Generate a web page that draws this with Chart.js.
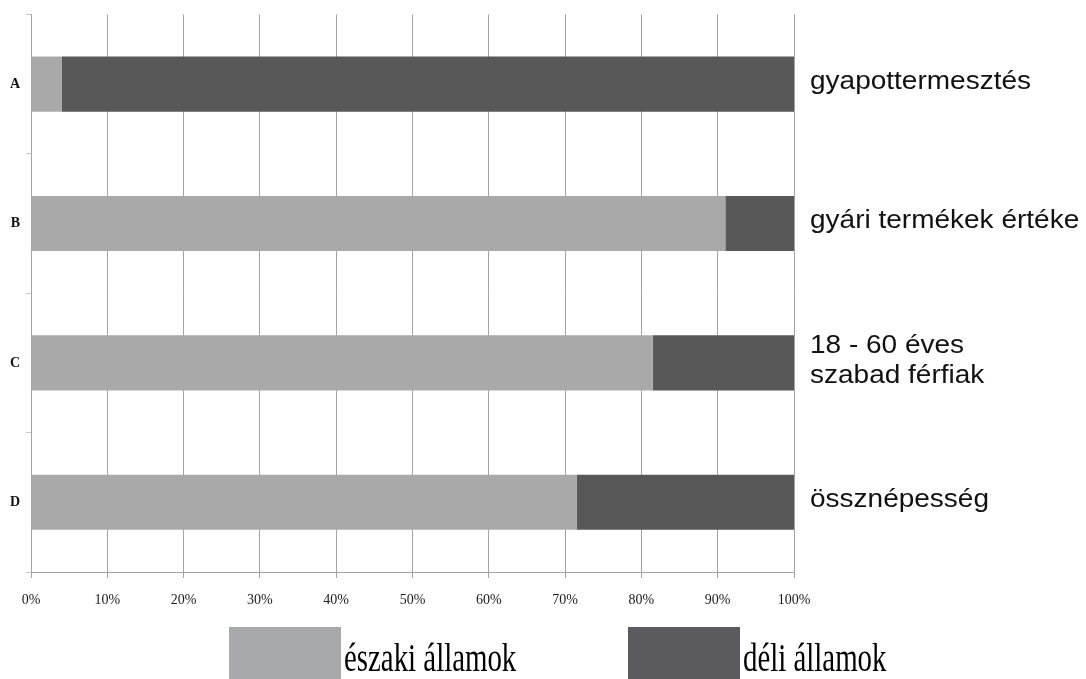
<!DOCTYPE html>
<html>
<head>
<meta charset="utf-8">
<script src="https://cdn.jsdelivr.net/npm/chart.js@4/dist/chart.umd.min.js"></script>
<style>
    html, body { margin: 0; padding: 0; background: #fff; overflow: hidden; }
    #wrap { position: relative; width: 1086px; height: 679px; }
    .lg-box { position: absolute; top: 627px; width: 112px; height: 54px; }
    .lg-text { position: absolute; top: 638px; line-height: 40px; font-family: "Liberation Serif", "Times New Roman", serif; font-size: 39px; color: #000; white-space: nowrap; transform: scaleX(0.74); transform-origin: left top; }
</style>
</head>
<body>
<div id="wrap">
    <canvas id="chart" width="1086" height="679"></canvas>
    <div class="lg-box" style="left:229px; background:#a8a9ad;"></div>
    <div class="lg-text" style="left:344px;">északi államok</div>
    <div class="lg-box" style="left:628px; background:#5b5b5f;"></div>
    <div class="lg-text" style="left:743px;">déli államok</div>
</div>
<script>
(function () {
    'use strict';

    const categories = ['A', 'B', 'C', 'D'];
    const rightLabels = [['gyapottermesztés'], ['gyári termékek értéke'], ['18 - 60 éves', 'szabad férfiak'], ['össznépesség']];
    const northValues = [4, 91, 81.5, 71.5];
    const southValues = [96, 9, 18.5, 28.5];
    const seriesNames = ['északi államok', 'déli államok'];

    const LIGHT = '#a9a9a9';
    const DARK = '#585858';
    const GRID = '#a3a3a3';

    const rightLabelPlugin = {
        id: 'rightLabels',
        afterDraw(chart) {
            const ctx = chart.ctx;
            const y = chart.scales.y;
            const x0 = chart.chartArea.right + 16;
            const sx = 1.12;
            ctx.save();
            ctx.fillStyle = '#111';
            ctx.font = '25px "Liberation Sans", Arial, sans-serif';
            ctx.textAlign = 'left';
            ctx.textBaseline = 'middle';
            rightLabels.forEach(function (lines, i) {
                const cy = y.getPixelForValue(i) - 2;
                const lh = 30;
                const start = cy - (lines.length - 1) * lh / 2;
                lines.forEach(function (t, j) {
                    ctx.save();
                    ctx.translate(x0, start + j * lh);
                    ctx.scale(sx, 1);
                    ctx.fillText(t, 0, 0);
                    ctx.restore();
                });
            });
            ctx.restore();
        }
    };

    new Chart(document.getElementById('chart'), {
        type: 'bar',
        data: {
            labels: categories,
            datasets: [{
                label: seriesNames[0],
                data: northValues,
                backgroundColor: LIGHT,
                barPercentage: 0.395,
                categoryPercentage: 1,
            }, {
                label: seriesNames[1],
                data: southValues,
                backgroundColor: DARK,
                barPercentage: 0.395,
                categoryPercentage: 1,
            }]
        },
        options: {
            indexAxis: 'y',
            responsive: false,
            animation: false,
            layout: { padding: { left: 0, right: 292, top: 7, bottom: 67 } },
            plugins: {
                legend: { display: false },
                tooltip: { enabled: false }
            },
            scales: {
                x: {
                    stacked: true,
                    min: 0,
                    max: 100,
                    ticks: {
                        stepSize: 10,
                        padding: 14,
                        color: '#1a1a1a',
                        font: { family: '"Liberation Serif", "Times New Roman", serif', size: 14 },
                        callback: v => v + '%'
                    },
                    grid: { color: GRID, tickLength: 6, tickColor: GRID },
                    border: { color: GRID },
                    afterFit(scale) { scale.height = 40; }
                },
                y: {
                    stacked: true,
                    ticks: {
                        padding: 6,
                        color: '#111',
                        font: { family: '"Liberation Serif", "Times New Roman", serif', size: 14, weight: 'bold' }
                    },
                    grid: { offset: true, drawOnChartArea: false, tickLength: 5, tickColor: '#c8c8c8' },
                    border: { color: GRID },
                    afterFit(scale) { scale.width = 31; }
                }
            }
        },
        plugins: [rightLabelPlugin]
    });
})();
</script>
</body>
</html>
